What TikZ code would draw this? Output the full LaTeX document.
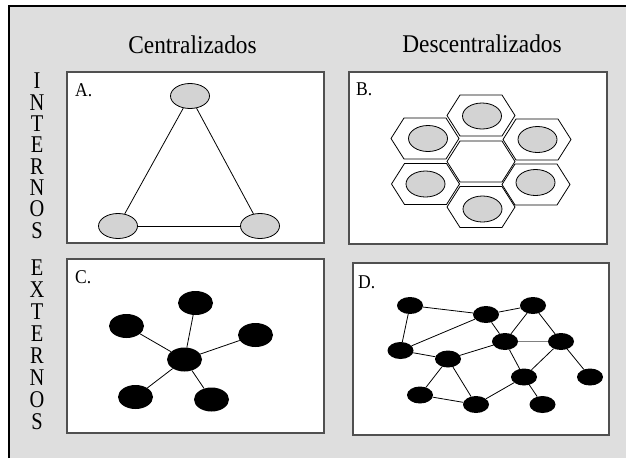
\documentclass[tikz,border=0pt]{standalone}
\usepackage{fontspec}
\usepackage{graphicx}
\setmainfont{Liberation Serif}
\usetikzlibrary{shapes.geometric}
\definecolor{bg}{RGB}{222,222,222}
\definecolor{ellg}{RGB}{211,211,211}
\definecolor{boxc}{RGB}{80,80,80}
\newcommand{\sq}[1]{\scalebox{0.85}[1]{#1}}
\begin{document}
\begin{tikzpicture}[x=1pt,y=-1pt,
  panel/.style={draw=boxc,line width=1.3pt,fill=white},
  gnode/.style={ellipse,draw,fill=ellg,line width=0.8pt,minimum width=39pt,minimum height=25pt,inner sep=0pt},
  hnode/.style={ellipse,draw,fill=ellg,line width=0.8pt,minimum width=39pt,minimum height=26pt,inner sep=0pt},
  cnode/.style={ellipse,fill=black,minimum width=35pt,minimum height=24pt,inner sep=0pt},
  dnode/.style={ellipse,fill=black,minimum width=26pt,minimum height=17pt,inner sep=0pt},
  link/.style={line width=0.8pt},
  title/.style={font=\fontsize{25.5}{30}\selectfont,anchor=base,inner sep=0pt},
  vword/.style={align=center,anchor=north,inner sep=0pt},
  plabel/.style={font=\fontsize{19.5}{20}\selectfont,anchor=base west,inner sep=0pt},
  hexa/.pic={\draw[line width=0.8pt] (-34,0) -- (-21,-20.5) -- (21,-20.5) -- (34,0) -- (21,20.5) -- (-21,20.5) -- cycle;}
]
\useasboundingbox (0,0) rectangle (626,458);
\fill[bg] (9,6) rectangle (626,458);
\draw[line width=1.5pt] (9,458) -- (9,6) -- (626,6);

% titles
\node[title] (tc) at (192.5,53.5) {\scalebox{0.915}[1]{Centralizados}};
\node[title] (td) at (482,52) {\scalebox{0.915}[1]{Descentralizados}};

% vertical words
\node[vword,font=\fontsize{24}{21.3}\selectfont] (intw) at (37,73)
  {\sq{I}\\\sq{N}\\\sq{T}\\\sq{E}\\\sq{R}\\\sq{N}\\\sq{O}\\\sq{S}};
\node[vword,font=\fontsize{24}{22}\selectfont] (extw) at (37,260)
  {\sq{E}\\\sq{X}\\\sq{T}\\\sq{E}\\\sq{R}\\\sq{N}\\\sq{O}\\\sq{S}};

% panels
\draw[panel] (67,72) rectangle (324,243);
\draw[panel] (349,72) rectangle (607,244);
\draw[panel] (67,259) rectangle (324,433);
\draw[panel] (353,263) rectangle (609,435);

\node[plabel] (la) at (75,96) {\scalebox{0.9}[1]{A.}};
\node[plabel] (lb) at (356,95) {\scalebox{0.9}[1]{B.}};
\node[plabel] (lc) at (75,283) {\scalebox{0.9}[1]{C.}};
\node[plabel] (ld) at (358,288) {\scalebox{0.9}[1]{D.}};

% A: triangle
\node[gnode] (a1) at (190,96) {};
\node[gnode] (a2) at (118,226) {};
\node[gnode] (a3) at (260,226) {};
\draw[link] (a1) -- (a2);
\draw[link] (a1) -- (a3);
\draw[link] (a2) -- (a3);

% B: hexagons
\pic at (481,115.5) {hexa};
\pic at (481,161.5) {hexa};
\pic at (481,207) {hexa};
\pic at (425,138.5) {hexa};
\pic at (537,139.5) {hexa};
\pic at (425.5,184) {hexa};
\pic at (536,184.5) {hexa};
\node[hnode] (b1) at (482,116) {};
\node[hnode] (b2) at (428,138.5) {};
\node[hnode] (b3) at (537.5,139.5) {};
\node[hnode] (b4) at (425.5,184) {};
\node[hnode] (b5) at (535.5,182.5) {};
\node[hnode] (b6) at (482.5,209) {};

% C: star
\node[cnode] (c0) at (184.5,359.5) {};
\node[cnode] (c1) at (195.5,303) {};
\node[cnode] (c2) at (126.5,326) {};
\node[cnode] (c3) at (255.5,335) {};
\node[cnode] (c4) at (135.5,397) {};
\node[cnode] (c5) at (211.5,399.5) {};
\foreach \k in {1,...,5} \draw[link] (c0) -- (c\k);

% D: mesh
\node[dnode] (d1) at (410,305.5) {};
\node[dnode] (d2) at (486,314.5) {};
\node[dnode] (d3) at (533,305.5) {};
\node[dnode] (d4) at (400.5,350.5) {};
\node[dnode] (d5) at (505,341.5) {};
\node[dnode] (d6) at (561,341.5) {};
\node[dnode] (d7) at (448,359) {};
\node[dnode] (d8) at (524,377) {};
\node[dnode] (d9) at (590,377) {};
\node[dnode] (d10) at (420,395) {};
\node[dnode] (d11) at (476,404.5) {};
\node[dnode] (d12) at (542.5,404.5) {};
\draw[link] (d1) -- (d2);
\draw[link] (d1) -- (d4);
\draw[link] (d4) -- (d2);
\draw[link] (d2) -- (d3);
\draw[link] (d2) -- (d5);
\draw[link] (d3) -- (d5);
\draw[link] (d3) -- (d6);
\draw[link,draw=gray,line width=1pt] (d5) -- (d6);
\draw[link] (d4) -- (d7);
\draw[link] (d7) -- (d5);
\draw[link] (d7) -- (d10);
\draw[link] (d7) -- (d11);
\draw[link] (d10) -- (d11);
\draw[link] (d11) -- (d8);
\draw[link] (d5) -- (d8);
\draw[link] (d6) -- (d8);
\draw[link] (d8) -- (d12);
\draw[link] (d6) -- (d9);
\end{tikzpicture}
\end{document}
